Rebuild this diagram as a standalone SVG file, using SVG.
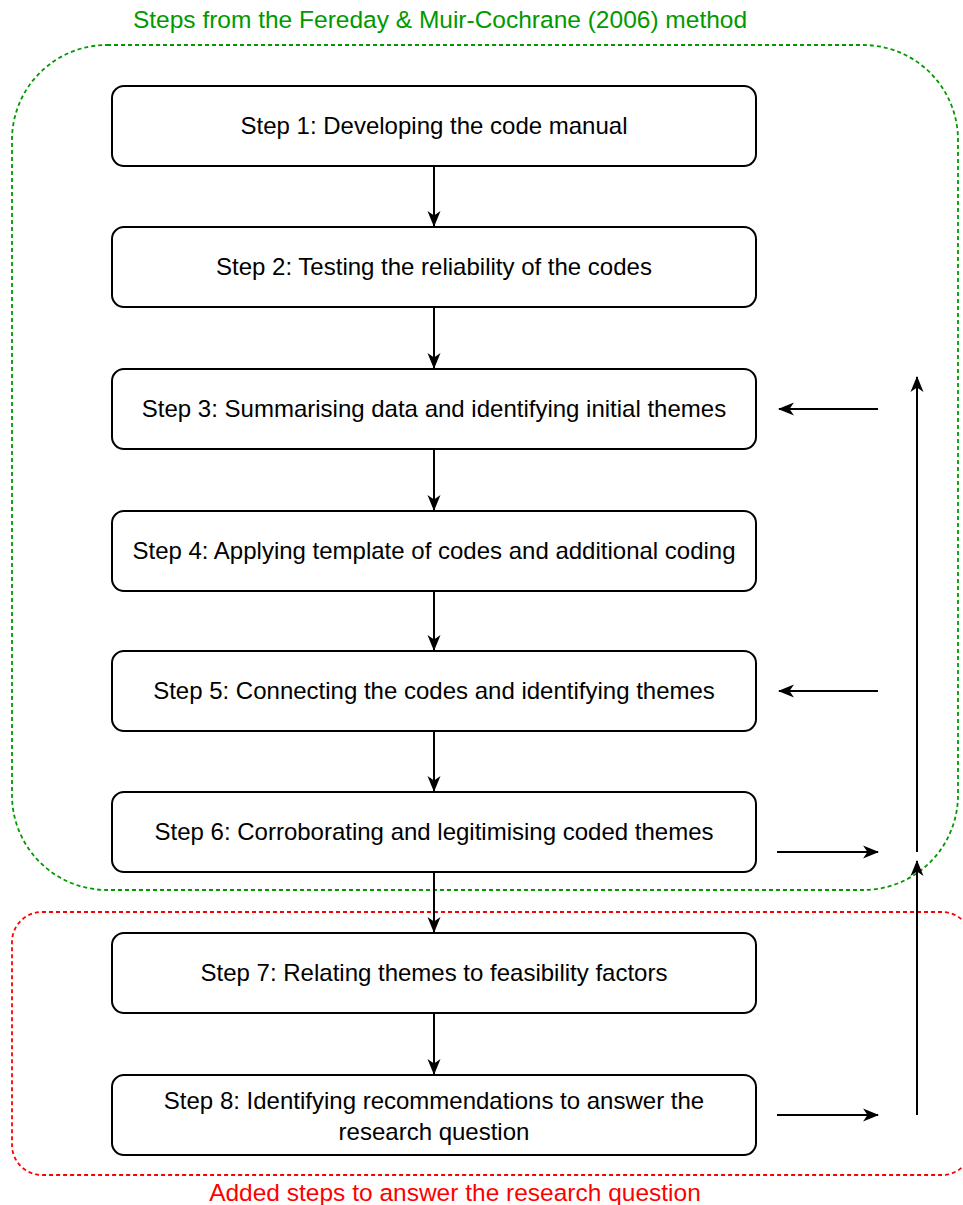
<svg xmlns="http://www.w3.org/2000/svg" width="963" height="1205" viewBox="0 0 963 1205">
<style>
.box{fill:#fff;stroke:#000;stroke-width:2}
.t{font-family:"Liberation Sans",Arial,sans-serif;font-size:24px;fill:#000;text-anchor:middle}
.c{stroke:#000;stroke-width:2;fill:none}
.lbl{font-family:"Liberation Sans",Arial,sans-serif;font-size:24.5px;text-anchor:middle}
</style>
<defs>
<marker id="ah" viewBox="0 0 16 16" refX="15" refY="8" markerWidth="16" markerHeight="16" markerUnits="userSpaceOnUse" orient="auto">
<path d="M0,1.5 L16,8 L0,14.5 L4.5,8 Z" fill="#000"/>
</marker>
</defs>
<g id="groups">
<rect x="12" y="45" width="946" height="845" rx="95" ry="95" fill="none" stroke="#009900" stroke-width="1.8" stroke-dasharray="4 3"/>
<text class="lbl" x="440" y="28" fill="#009900">Steps from the Fereday &amp; Muir-Cochrane (2006) method</text>
<rect x="12" y="912" width="960" height="263" rx="30" ry="30" fill="none" stroke="#FF0000" stroke-width="1.8" stroke-dasharray="4 3"/>
<text class="lbl" x="455" y="1201" fill="#FF0000">Added steps to answer the research question</text>
</g>
<g id="step1"><rect class="box" x="112" y="86" width="644" height="80" rx="12"/><text class="t" x="434" y="134">Step 1: Developing the code manual</text></g>
<g id="step2"><rect class="box" x="112" y="227" width="644" height="80" rx="12"/><text class="t" x="434" y="275">Step 2: Testing the reliability of the codes</text></g>
<g id="step3"><rect class="box" x="112" y="369" width="644" height="80" rx="12"/><text class="t" x="434" y="417">Step 3: Summarising data and identifying initial themes</text></g>
<g id="step4"><rect class="box" x="112" y="511" width="644" height="80" rx="12"/><text class="t" x="434" y="559">Step 4: Applying template of codes and additional coding</text></g>
<g id="step5"><rect class="box" x="112" y="651" width="644" height="80" rx="12"/><text class="t" x="434" y="699">Step 5: Connecting the codes and identifying themes</text></g>
<g id="step6"><rect class="box" x="112" y="792" width="644" height="80" rx="12"/><text class="t" x="434" y="840">Step 6: Corroborating and legitimising coded themes</text></g>
<g id="step7"><rect class="box" x="112" y="933" width="644" height="80" rx="12"/><text class="t" x="434" y="981">Step 7: Relating themes to feasibility factors</text></g>
<g id="step8"><rect class="box" x="112" y="1075" width="644" height="80" rx="12"/><text class="t" x="434" y="1109">Step 8: Identifying recommendations to answer the</text><text class="t" x="434" y="1140">research question</text></g>
<g id="connectors">
<line class="c" x1="434" y1="166" x2="434" y2="226" marker-end="url(#ah)"/>
<line class="c" x1="434" y1="307" x2="434" y2="368" marker-end="url(#ah)"/>
<line class="c" x1="434" y1="449" x2="434" y2="510" marker-end="url(#ah)"/>
<line class="c" x1="434" y1="591" x2="434" y2="650" marker-end="url(#ah)"/>
<line class="c" x1="434" y1="731" x2="434" y2="791" marker-end="url(#ah)"/>
<line class="c" x1="434" y1="872" x2="434" y2="932" marker-end="url(#ah)"/>
<line class="c" x1="434" y1="1013" x2="434" y2="1074" marker-end="url(#ah)"/>
<line class="c" x1="878" y1="409" x2="779" y2="409" marker-end="url(#ah)"/>
<line class="c" x1="878" y1="691" x2="779" y2="691" marker-end="url(#ah)"/>
<line class="c" x1="777" y1="852" x2="878" y2="852" marker-end="url(#ah)"/>
<line class="c" x1="777" y1="1115" x2="878" y2="1115" marker-end="url(#ah)"/>
<line class="c" x1="917" y1="1115" x2="917" y2="861" marker-end="url(#ah)"/>
<line class="c" x1="917" y1="852" x2="917" y2="377" marker-end="url(#ah)"/>
</g>
</svg>
